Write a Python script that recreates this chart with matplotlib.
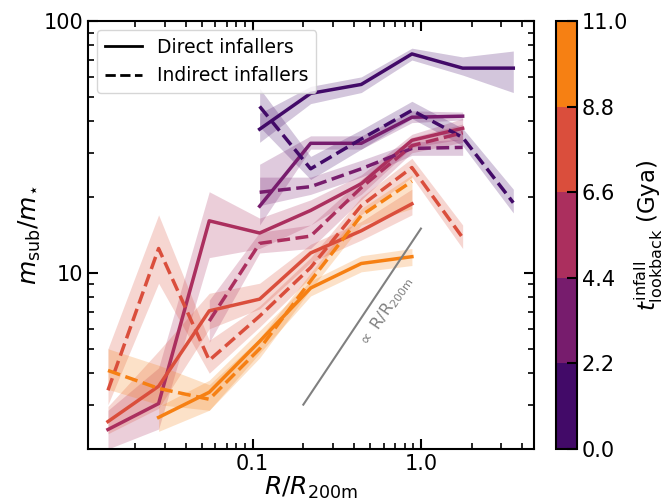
import numpy as np
import matplotlib
matplotlib.use("Agg")
import matplotlib.pyplot as plt
from matplotlib.colors import ListedColormap, BoundaryNorm
from matplotlib.lines import Line2D
import matplotlib.cm as cm

# ---------------- data ----------------
R = [0.0138, 0.0276, 0.0552, 0.110, 0.221, 0.442, 0.884, 1.77, 3.54]
t_edges = [0.0, 2.2, 4.4, 6.6, 8.8, 11.0]
t_ticklabels = ["0.0", "2.2", "4.4", "6.6", "8.8", "11.0"]

# direct infallers (one list per infall-time bin), start = first R index
direct_start = [3, 3, 0, 0, 1]
direct_med = [
    [37.2, 51.6, 56, 74, 65, 65],
    [18.4, 32.7, 32.7, 41.5, 41.9],
    [2.39, 3.03, 16.1, 14.4, 17.7, 22.6, 33.6, 37.5],
    [2.57, 3.55, 7.07, 7.87, 12, 14.7, 18.8],
    [2.67, 3.36, 5.35, 8.71, 10.9, 11.6],
]
direct_lo = [
    [33, 47, 52, 70, 61, 52],
    [15.5, 31, 31, 39.5, 40.5],
    [2.0, 2.4, 11.5, 12.5, 15.5, 20.5, 31.5, 34],
    [2.3, 2.9, 6.0, 7.2, 11, 13.5, 17],
    [2.35, 2.85, 4.8, 8.1, 10.1, 10.7],
]
direct_hi = [
    [43, 55, 60, 78, 72, 76],
    [27, 35, 35, 44, 43.5],
    [2.85, 4.2, 21, 16.5, 19.5, 24.5, 35.5, 41],
    [2.95, 4.9, 8.3, 9.1, 13, 16, 21.5],
    [2.95, 3.75, 5.9, 9.3, 11.7, 12.5],
]

# indirect infallers
indirect_start = [3, 3, 2, 0, 0]
indirect_med = [
    [45.8, 25.9, 34, 44.2, 34.5, 19],
    [20.9, 22, 25.9, 31.2, 31.5],
    [6.44, 13.1, 14, 21.8, 32, 36],
    [3.42, 12.5, 4.5, 6.74, 10.5, 18.5, 26.2, 13.8],
    [4.1, 3.48, 3.15, 5.0, 9.3, 16.9, 23.1],
]
indirect_lo = [
    [38, 23.5, 31, 41, 32, 17.3],
    [18.5, 20.5, 24, 29.3, 29.3],
    [5.3, 12, 12.5, 19.5, 30, 33],
    [3.0, 9.1, 4.0, 6.1, 9.6, 17, 24, 12.5],
    [3.45, 3.0, 2.85, 4.6, 8.6, 15.5, 18],
]
indirect_hi = [
    [54, 29, 37, 48, 37.5, 21.5],
    [24, 24, 28, 33, 34],
    [7.8, 14.5, 15.5, 23.5, 34.5, 39],
    [5.0, 17, 5.4, 7.4, 11.5, 20, 28.5, 15.5],
    [5.0, 4.3, 3.6, 5.5, 10, 18, 24.5],
]

# reference slope line
ref_x = [0.2, 1.0]
ref_y = [3.0, 15.0]

# ---------------- style ----------------
base = matplotlib.colormaps["inferno"]
colors = [base(v) for v in np.linspace(0.2, 0.72, 5)]
cmap = ListedColormap(colors)
norm = BoundaryNorm(t_edges, cmap.N)

fig = plt.figure(figsize=(6.7, 5.04), dpi=100)
ax = fig.add_axes([88 / 670, 55 / 504, 446 / 670, 428 / 504])
cax = fig.add_axes([556 / 670, 55 / 504, 21 / 670, 428 / 504])

def draw(start, med, lo, hi, ls):
    for i in range(len(med)):
        x = R[start[i]:start[i] + len(med[i])]
        c = colors[i]
        ax.fill_between(x, lo[i], hi[i], color=c, alpha=0.23, linewidth=0)
        ax.plot(x, med[i], color=c, ls=ls, lw=2.5)

draw(direct_start, direct_med, direct_lo, direct_hi, "-")
draw(indirect_start, indirect_med, indirect_lo, indirect_hi, "--")

ax.plot(ref_x, ref_y, color="gray", lw=1.5)
ax.text(0.62, 7.0, r"$\propto$ R/R$_{\rm 200m}$", rotation=56, color="gray",
        fontsize=11.5, ha="center", va="center", rotation_mode="anchor")

ax.set_xscale("log")
ax.set_yscale("log")
ax.set_xlim(0.0105, 4.7)
ax.set_ylim(2, 100)
ax.set_xticks([0.1, 1.0])
ax.set_xticklabels(["0.1", "1.0"])
ax.set_yticks([10, 100])
ax.set_yticklabels(["10", "100"])
ax.tick_params(which="both", direction="in", top=True, right=True, labelsize=15)
ax.tick_params(which="major", length=7, width=1.5)
ax.tick_params(which="minor", length=4, width=1.2)
for s in ax.spines.values():
    s.set_linewidth(1.5)
ax.set_xlabel(r"$R/R_{\rm 200m}$", fontsize=18, labelpad=1)
ax.set_ylabel(r"$m_{\rm sub}/m_{\star}$", fontsize=18, labelpad=0)

handles = [Line2D([], [], color="black", lw=2, ls="-"),
           Line2D([], [], color="black", lw=2, ls="--")]
ax.legend(handles, ["Direct infallers", "Indirect infallers"], loc="upper left",
          fontsize=13.5, handlelength=2.0)

sm = cm.ScalarMappable(cmap=cmap, norm=norm)
cb = fig.colorbar(sm, cax=cax, ticks=t_edges)
cb.ax.set_yticklabels(t_ticklabels)
cb.ax.tick_params(direction="in", length=7, width=1.5, labelsize=15)
cb.outline.set_linewidth(1.5)
cb.set_label(r"$t^{\rm infall}_{\rm lookback}$ (Gya)", fontsize=16.5, labelpad=3)

fig.savefig("out.png", dpi=100)
